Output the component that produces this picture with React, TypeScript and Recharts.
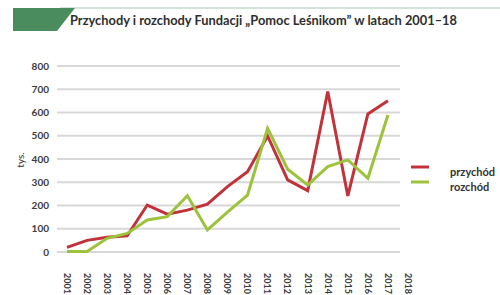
import React from 'react';
import { LineChart, Line, XAxis, YAxis, CartesianGrid } from 'recharts';

const years = ['2001','2002','2003','2004','2005','2006','2007','2008','2009','2010','2011','2012','2013','2014','2015','2016','2017','2018'];
const przychod: (number | null)[] = [20, 50, 63, 70, 202, 163, 180, 206, 281, 345, 499, 310, 264, 690, 241, 594, 651, null];
const rozchod: (number | null)[] = [2, 2, 59, 80, 138, 152, 242, 95, 171, 245, 532, 356, 288, 367, 396, 317, 589, null];
const yTicks = [0, 100, 200, 300, 400, 500, 600, 700, 800];
const title = 'Przychody i rozchody Fundacji „Pomoc Leśnikom” w latach 2001–18';
const seriesNames = ['przychód', 'rozchód'];

const data = years.map((y, i) => ({ year: y, przychod: przychod[i], rozchod: rozchod[i] }));

const RED = '#c1323b';
const GREEN = '#9cc33b';

const XTick = (props: any) => {
  const { x, y, payload } = props;
  return (
    <text
      transform={`translate(${x},${y + 13}) rotate(90)`}
      textAnchor="start"
      dy="0.35em"
      fontSize={9}
      fontWeight={700}
      fill="#3a3a3a"
      fontFamily="Lato, 'Open Sans', sans-serif"
    >
      {payload.value}
    </text>
  );
};

export default function App() {
  return (
    <div style={{ position: 'absolute', left: 0, top: 0, width: 500, height: 295, background: '#fff', overflow: 'hidden' }}>
      <svg width={500} height={295} style={{ position: 'absolute', left: 0, top: 0 }}>
        <line x1={60} y1={8} x2={500} y2={8} stroke="#a9c7b2" strokeWidth={1} />
        <polygon points="13,8 75,8 57,31 13,31" fill="#4a8c5e" />
        <text x={70} y={25} fontSize={14} fontWeight={700} fill="#2e2e2e" fontFamily="Lato, 'Open Sans', sans-serif" textLength={387} lengthAdjust="spacingAndGlyphs">
          {title}
        </text>
        <text transform="translate(24,160) rotate(-90)" textAnchor="middle" fontSize={10} fill="#333" fontFamily="Lato, 'Open Sans', sans-serif">tys.</text>
        <line x1={411} y1={167} x2={429} y2={167} stroke={RED} strokeWidth={3} />
        <line x1={411} y1={182} x2={429} y2={182} stroke={GREEN} strokeWidth={3} />
        <text x={450} y={176} fontSize={11} fontWeight={700} fill="#333" fontFamily="Lato, 'Open Sans', sans-serif">{seriesNames[0]}</text>
        <text x={450} y={191} fontSize={11} fontWeight={700} fill="#333" fontFamily="Lato, 'Open Sans', sans-serif">{seriesNames[1]}</text>
      </svg>
      <div style={{ position: 'absolute', left: 0, top: 0 }}>
        <LineChart width={500} height={295} data={data} margin={{ top: 66, right: 100, bottom: 0, left: 0 }}>
          <CartesianGrid horizontal vertical={false} stroke="#d8d8d8" strokeWidth={2} />
          <XAxis
            dataKey="year"
            axisLine={false}
            tickLine={false}
            interval={0}
            padding={{ left: 10, right: -8 }}
            tick={<XTick />}
            height={43}
          />
          <YAxis
            domain={[0, 800]}
            ticks={yTicks}
            axisLine={false}
            tickLine={false}
            width={57}
            interval={0}
            tick={{ fontSize: 10, fontWeight: 700, fill: '#3a3a3a', fontFamily: "Lato, 'Open Sans', sans-serif" }}
          />
          <Line type="linear" dataKey="przychod" stroke={RED} strokeWidth={3} dot={false} isAnimationActive={false} />
          <Line type="linear" dataKey="rozchod" stroke={GREEN} strokeWidth={3} dot={false} isAnimationActive={false} />
        </LineChart>
      </div>
    </div>
  );
}
